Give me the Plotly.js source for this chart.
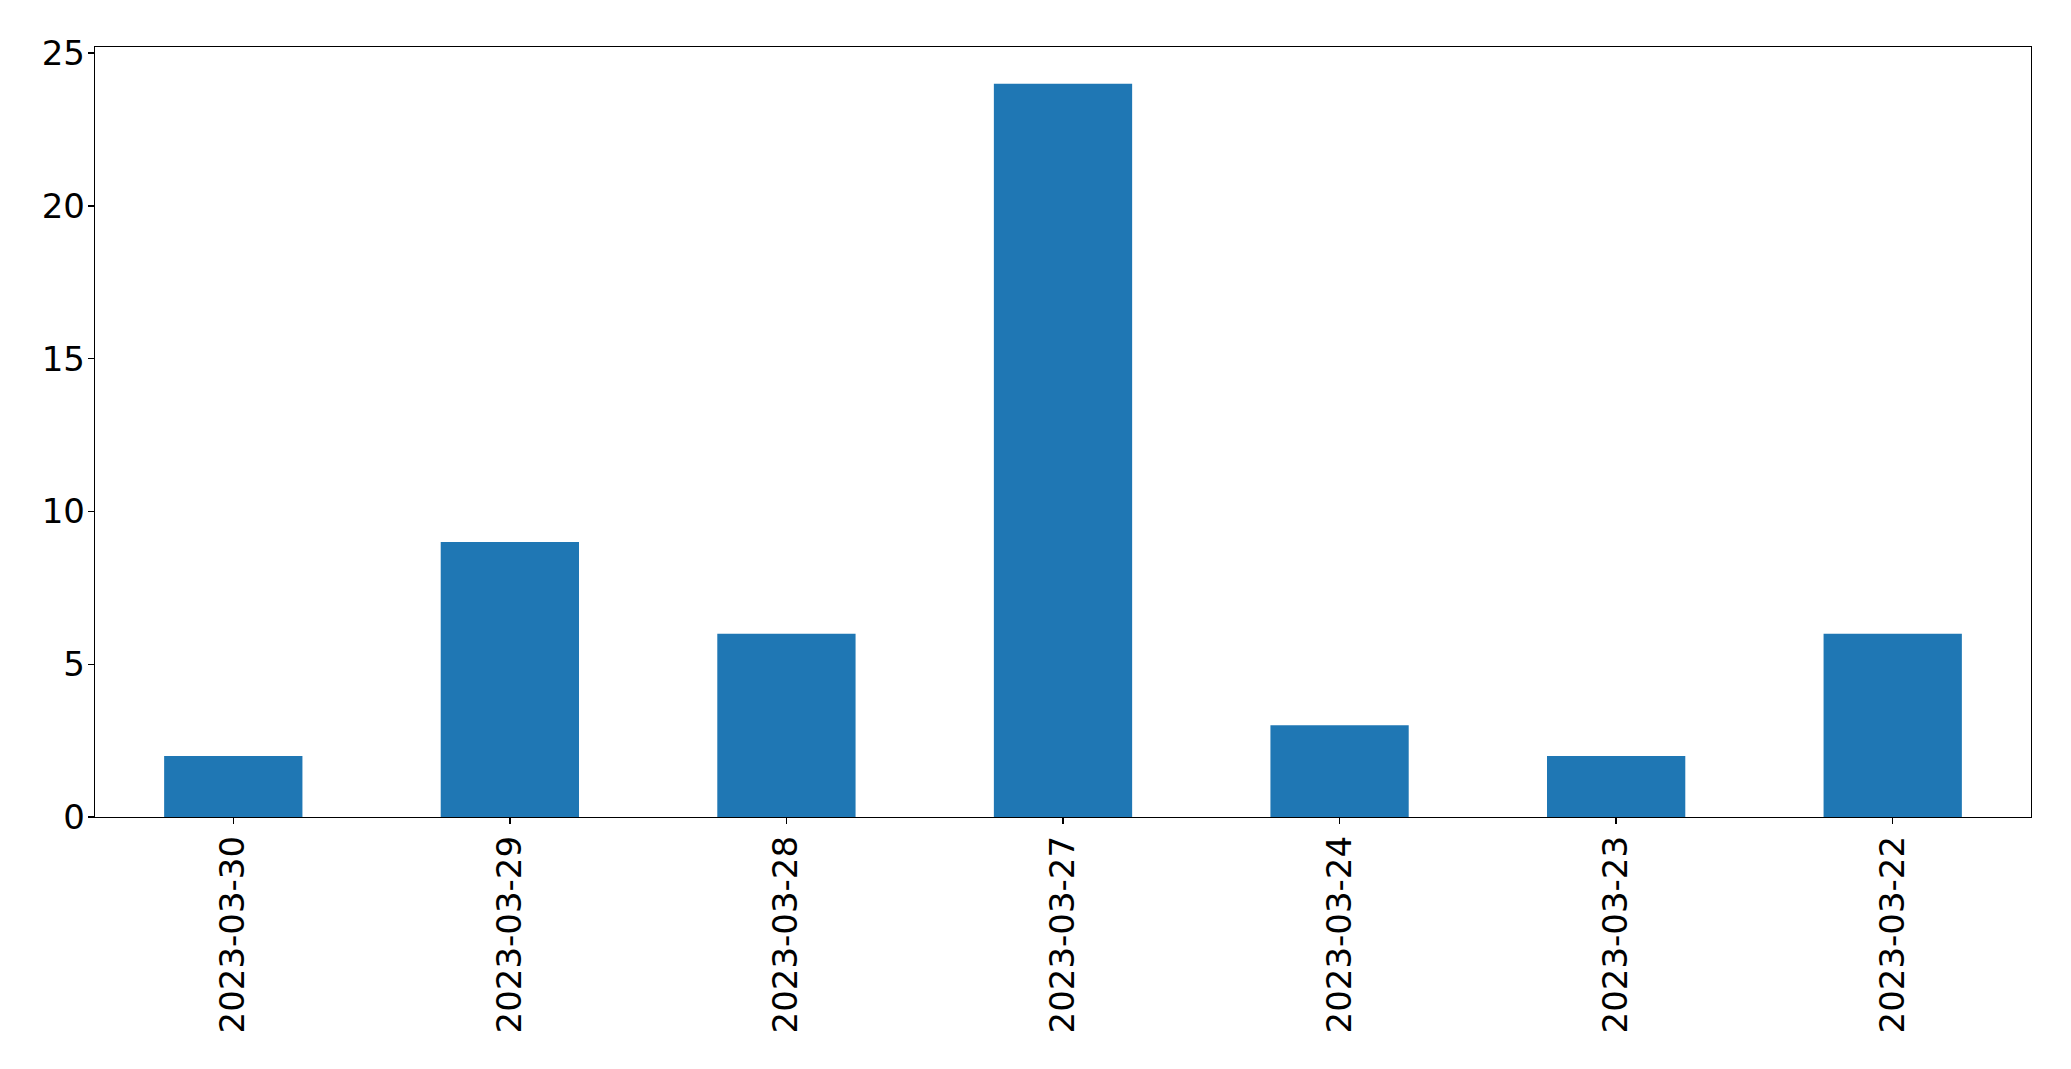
<!DOCTYPE html>
<html>
<head>
<meta charset="utf-8">
<script src="https://cdn.plot.ly/plotly-3.0.1.min.js"></script>
<style>html,body{margin:0;padding:0;background:#fff;}#chart{width:2071px;height:1069px;}</style>
</head>
<body>
<div id="chart"></div>
<script>
const categories = ["2023-03-30", "2023-03-29", "2023-03-28", "2023-03-27", "2023-03-24", "2023-03-23", "2023-03-22"];
const counts = [2, 9, 6, 24, 3, 2, 6];
const yTicks = [0, 5, 10, 15, 20, 25];

const trace = {
  type: 'bar',
  x: categories,
  y: counts,
  width: 0.5,
  marker: {color: '#1f77b4', line: {width: 0}},
  hoverinfo: 'x+y'
};

const font = {family: 'DejaVu Sans', size: 34, color: '#000'};

const layout = {
  width: 2071,
  height: 1069,
  margin: {l: 95, r: 40, t: 47, b: 252, pad: 0},
  paper_bgcolor: '#fff',
  plot_bgcolor: '#fff',
  showlegend: false,
  font: font,
  xaxis: {
    type: 'category',
    range: [-0.5, categories.length - 0.5],
    tickangle: -90,
    ticks: 'outside',
    ticklen: 6,
    tickwidth: 1.3,
    tickcolor: '#000',
    ticklabelstandoff: -2,
    showline: true,
    linecolor: '#000',
    linewidth: 1.3,
    mirror: true,
    showgrid: false,
    zeroline: false,
    tickfont: font
  },
  yaxis: {
    range: [0, 25.2],
    tickvals: yTicks,
    ticktext: yTicks.map(String),
    ticks: 'outside',
    ticklen: 6,
    tickwidth: 1.3,
    tickcolor: '#000',
    ticklabelstandoff: -4,
    showline: true,
    linecolor: '#000',
    linewidth: 1.3,
    mirror: true,
    showgrid: false,
    zeroline: false,
    tickfont: font
  }
};

Plotly.newPlot('chart', [trace], layout, {displayModeBar: false, staticPlot: true});
</script>
</body>
</html>
